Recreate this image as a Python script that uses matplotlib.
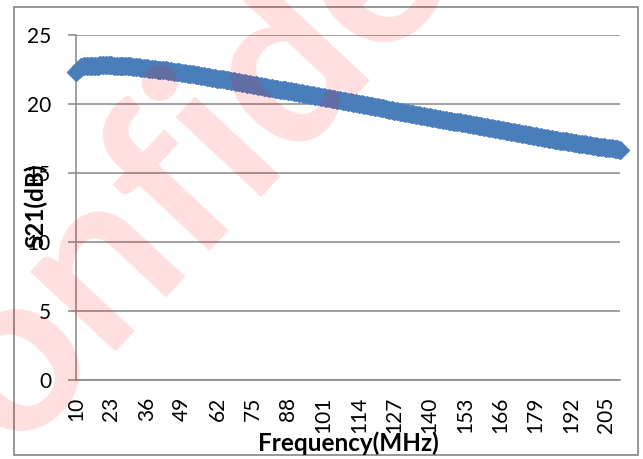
import matplotlib.pyplot as plt
from matplotlib.patches import Rectangle
import numpy as np

# S21 vs frequency, 1 MHz steps from 10 to 210 MHz
freq_mhz = list(range(10, 211))
s21_db = [
    22.35, 22.55, 22.68, 22.72, 22.74, 22.76, 22.77, 22.78, 22.78, 22.79,
    22.80, 22.80, 22.79, 22.80, 22.78, 22.78, 22.77, 22.75, 22.76, 22.74,
    22.72, 22.71, 22.68, 22.67, 22.63, 22.62, 22.60, 22.57, 22.56, 22.52,
    22.50, 22.48, 22.45, 22.43, 22.40, 22.38, 22.35, 22.32, 22.30, 22.27,
    22.24, 22.21, 22.18, 22.14, 22.12, 22.08, 22.05, 22.01, 21.98, 21.95,
    21.91, 21.88, 21.84, 21.81, 21.78, 21.74, 21.71, 21.67, 21.64, 21.60,
    21.57, 21.53, 21.50, 21.46, 21.43, 21.40, 21.36, 21.33, 21.29, 21.26,
    21.22, 21.19, 21.15, 21.12, 21.08, 21.05, 21.02, 20.98, 20.95, 20.91,
    20.88, 20.85, 20.81, 20.78, 20.74, 20.71, 20.68, 20.64, 20.61, 20.58,
    20.54, 20.50, 20.47, 20.43, 20.39, 20.36, 20.32, 20.28, 20.24, 20.21,
    20.17, 20.13, 20.09, 20.06, 20.02, 19.98, 19.94, 19.90, 19.87, 19.83,
    19.79, 19.75, 19.71, 19.68, 19.64, 19.60, 19.56, 19.52, 19.48, 19.45,
    19.41, 19.37, 19.33, 19.30, 19.26, 19.22, 19.19, 19.15, 19.12, 19.08,
    19.05, 19.01, 18.98, 18.94, 18.91, 18.87, 18.84, 18.80, 18.77, 18.73,
    18.70, 18.66, 18.63, 18.59, 18.56, 18.52, 18.49, 18.45, 18.41, 18.38,
    18.34, 18.31, 18.27, 18.23, 18.20, 18.16, 18.12, 18.09, 18.05, 18.01,
    17.98, 17.94, 17.91, 17.87, 17.83, 17.80, 17.76, 17.73, 17.69, 17.66,
    17.62, 17.59, 17.55, 17.52, 17.48, 17.45, 17.42, 17.38, 17.35, 17.32,
    17.29, 17.25, 17.22, 17.19, 17.16, 17.13, 17.10, 17.07, 17.04, 17.01,
    16.98, 16.95, 16.92, 16.89, 16.86, 16.83, 16.80, 16.78, 16.75, 16.73,
    16.70,
]
x_ticks = list(range(10, 211, 13))
y_ticks = [0, 5, 10, 15, 20, 25]

W, H = 643, 459
grey = "#868686"
blue = "#4A7EBB"

plt.rcParams["font.family"] = ["Lato", "DejaVu Sans"]

fig = plt.figure(figsize=(W / 100, H / 100), dpi=100)
fig.patch.set_facecolor("white")

# chart area border
fig.patches.append(Rectangle((14 / W, 1 - 455 / H), 624 / W, 448 / H,
                             transform=fig.transFigure, fill=False,
                             edgecolor=grey, lw=1.2, zorder=0))

ax = fig.add_axes([76 / W, 1 - 380 / H, 544 / W, 345 / H])
ax.set_facecolor("none")
ax.plot(freq_mhz, s21_db, color=blue, lw=3, marker="D", ms=9,
        mfc=blue, mec=blue, clip_on=False, zorder=3)

ax.set_xlim(10, 210)
ax.set_ylim(0, 25)
ax.set_xticks(x_ticks)
ax.set_xticklabels([str(v) for v in x_ticks], rotation=90)
ax.set_yticks(y_ticks)
ax.grid(axis="y", color=grey, lw=1.1)
ax.set_axisbelow(True)
for s in ["top", "right"]:
    ax.spines[s].set_visible(False)
for s in ["left", "bottom"]:
    ax.spines[s].set_color(grey)
    ax.spines[s].set_linewidth(1.1)
ax.tick_params(axis="y", length=6, width=1.1, color=grey, pad=12, labelsize=15)
ax.tick_params(axis="x", length=0, pad=12, labelsize=15)

fig.text(348 / W, 1 - 443 / H, "Frequency(MHz)", ha="center", va="center",
         fontsize=17.5, fontweight="bold")
fig.text(36 / W, 1 - 206 / H, "S21(dB)", ha="center", va="center",
         rotation=90, fontsize=17.5, fontweight="bold")

# watermark
fig.text(290 / W, 1 - 60 / H, "Confidential", ha="center", va="center",
         rotation=47, fontsize=165, fontweight="bold", color="red",
         alpha=0.13, zorder=10)

fig.savefig("out.png", dpi=100)
